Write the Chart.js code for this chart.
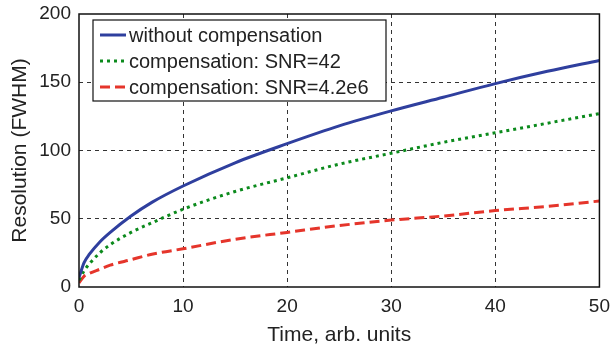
<!DOCTYPE html>
<html>
<head>
<meta charset="utf-8">
<script src="https://cdn.jsdelivr.net/npm/chart.js@4/dist/chart.umd.min.js"></script>
<style>
  html, body { margin: 0; padding: 0; background: #fff; }
  #wrap { width: 610px; height: 349px; }
</style>
</head>
<body>
<div id="wrap"><canvas id="chart"></canvas></div>
<script>
// values
const times = [0, 0.5, 1, 2, 3, 5, 7, 10, 15, 20, 25, 30, 35, 40, 45, 50];
const withoutComp = [7, 18, 24, 33, 40, 52, 62, 74, 91, 105, 118, 129, 139, 149, 158, 166];
const compSnr42 = [5, 12, 17, 25, 31, 40, 47, 57, 70, 80, 90, 98, 106, 113, 120, 127];
const compSnrHigh = [3, 8, 10, 13, 16, 20, 24, 28, 35, 40, 45, 49, 52, 56, 59, 63];
const xTicks = [0, 10, 20, 30, 40, 50];
const yTicks = [0, 50, 100, 150, 200];

const FONT = '"Liberation Sans", Arial, Helvetica, sans-serif';

function pts(vals) {
  return times.map((t, i) => ({ x: t, y: vals[i] }));
}

// draws the solid axes box and the in-plot legend
const frameAndLegend = {
  id: 'frameAndLegend',
  afterDraw(chart) {
    const { ctx, chartArea: a } = chart;
    ctx.save();
    ctx.strokeStyle = '#111';
    ctx.lineWidth = 1.5;
    ctx.setLineDash([]);
    ctx.strokeRect(a.left, a.top, a.right - a.left, a.bottom - a.top);

    // legend box
    const bx = 93, by = 20, bw = 293, bh = 81;
    ctx.fillStyle = '#fff';
    ctx.fillRect(bx, by, bw, bh);
    ctx.lineWidth = 1.2;
    ctx.strokeStyle = '#111';
    ctx.strokeRect(bx, by, bw, bh);

    const rows = [35, 61, 87];
    ctx.font = '20px ' + FONT;
    ctx.textBaseline = 'middle';
    chart.data.datasets.forEach((ds, i) => {
      const y = rows[i];
      ctx.strokeStyle = ds.borderColor;
      ctx.lineWidth = ds.borderWidth;
      ctx.setLineDash(ds.borderDash || []);
      ctx.beginPath();
      ctx.moveTo(100, y);
      ctx.lineTo(126, y);
      ctx.stroke();
      ctx.setLineDash([]);
      ctx.fillStyle = '#222';
      ctx.fillText(ds.label, 129, y + 1);
    });
    ctx.restore();
  }
};

function gridColor(ctx) {
  const v = ctx.tick && ctx.tick.value;
  if (v === ctx.scale.min || v === ctx.scale.max) return 'rgba(0,0,0,0)';
  return '#333';
}

new Chart(document.getElementById('chart'), {
  type: 'line',
  data: {
    datasets: [
      {
        label: 'without compensation',
        data: pts(withoutComp),
        borderColor: '#2f3f9e',
        borderWidth: 3,
        pointRadius: 0,
        cubicInterpolationMode: 'monotone'
      },
      {
        label: 'compensation: SNR=42',
        data: pts(compSnr42),
        borderColor: '#0b8a1c',
        borderWidth: 3,
        borderDash: [3, 4],
        pointRadius: 0,
        cubicInterpolationMode: 'monotone'
      },
      {
        label: 'compensation: SNR=4.2e6',
        data: pts(compSnrHigh),
        borderColor: '#e5352b',
        borderWidth: 3,
        borderDash: [10, 5],
        pointRadius: 0,
        cubicInterpolationMode: 'monotone'
      }
    ]
  },
  options: {
    responsive: true,
    maintainAspectRatio: false,
    animation: false,
    layout: { padding: { top: 14, right: 10, left: 0, bottom: 0 } },
    plugins: { legend: { display: false }, tooltip: { enabled: false } },
    scales: {
      x: {
        type: 'linear',
        min: 0,
        max: 50,
        afterBuildTicks(scale) { scale.ticks = xTicks.map(v => ({ value: v })); },
        afterFit(scale) { scale.height = 62; },
        grid: { color: gridColor, lineWidth: 1, drawTicks: true, tickLength: 8, tickColor: 'rgba(0,0,0,0)' },
        border: { display: false, dash: [4, 4] },
        ticks: { color: '#222', padding: 0, font: { family: FONT, size: 19 } },
        title: {
          display: true,
          text: 'Time, arb. units',
          color: '#222',
          font: { family: FONT, size: 21 },
          padding: { top: 0, bottom: 1 }
        }
      },
      y: {
        min: 0,
        max: 200,
        afterBuildTicks(scale) { scale.ticks = yTicks.map(v => ({ value: v })); },
        afterFit(scale) { scale.width = 79; },
        grid: { color: gridColor, lineWidth: 1, drawTicks: true, tickLength: 8, tickColor: 'rgba(0,0,0,0)' },
        border: { display: false, dash: [4, 4] },
        ticks: { color: '#222', padding: 0, font: { family: FONT, size: 19 } },
        title: {
          display: true,
          text: 'Resolution (FWHM)',
          color: '#222',
          font: { family: FONT, size: 21 },
          padding: { top: 8, bottom: 0 }
        }
      }
    }
  },
  plugins: [frameAndLegend]
});
</script>
</body>
</html>
